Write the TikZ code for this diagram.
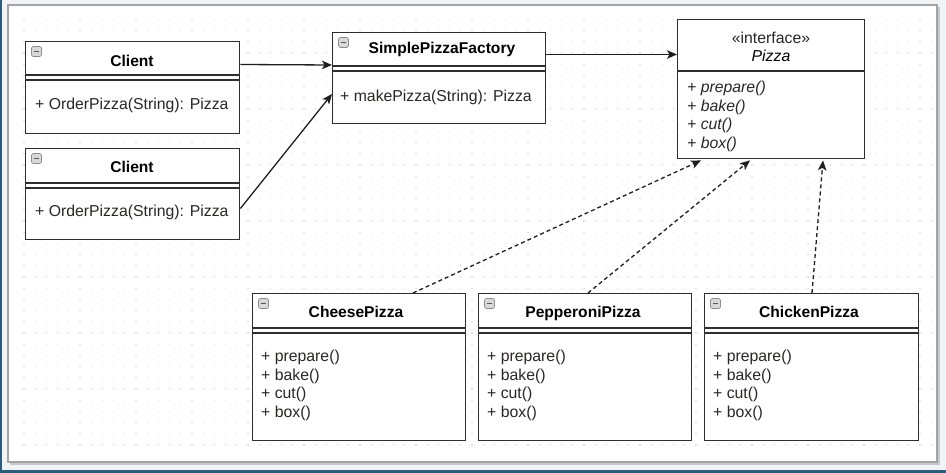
\documentclass[tikz,border=0pt]{standalone}
\usepackage{fontspec}
\setmainfont{Liberation Sans}
\usetikzlibrary{arrows.meta,calc}
\definecolor{outerbg}{HTML}{F1F4F7}
\definecolor{outerblue}{HTML}{2B5C7A}
\definecolor{pageedge}{HTML}{A3A3A3}
\definecolor{pageshadow}{HTML}{C8C8C8}
\definecolor{dotc}{HTML}{E0E0E0}
\definecolor{boxc}{HTML}{2E2E2E}
\definecolor{linec}{HTML}{1E1E1E}
\definecolor{txtc}{HTML}{2A2626}
\definecolor{iconfill}{HTML}{D8D8D8}
\definecolor{iconedge}{HTML}{8C8C8C}
\tikzset{
  classbox/.style={draw=boxc, fill=white, line width=1.4pt, inner sep=0pt, anchor=north west},
  rule/.style={draw=boxc, line width=1.4pt},
  iconbox/.style={draw=iconedge, fill=iconfill, rounded corners=1.5pt, line width=0.6pt,
    minimum width=10pt, minimum height=10pt, inner sep=0pt},
  icondash/.style={draw=black!65, line width=1.3pt},
  titletext/.style={font=\bfseries\fontsize{15.6}{18}\selectfont, text=black, inner sep=0pt, anchor=base},
  opstext/.style={font=\fontsize{15.8}{18.8}\selectfont, text=txtc, inner sep=0pt, anchor=base west},
  itops/.style={font=\itshape\fontsize{15.8}{18.8}\selectfont, text=txtc, inner sep=0pt, anchor=base west},
  assoc/.style={draw=linec, line width=1.3pt, -{Stealth[length=10pt,width=8.5pt,inset=2.5pt]}},
  realize/.style={draw=linec, line width=1.3pt, dash pattern=on 4pt off 3pt,
    -{Stealth[length=10pt,width=8.5pt,inset=2.5pt]}},
}
\newcommand\classframe[6]{%
  \node[classbox, minimum width=#4pt, minimum height=#5pt] (#1) at (#2,#3) {};
  \draw[rule] ($(#1.north west)+(0,#6)$) -- ($(#1.north east)+(0,#6)$);
  \draw[rule] ($(#1.north west)+(0,#6+5)$) -- ($(#1.north east)+(0,#6+5)$);
  \node[iconbox] (#1i) at ($(#1.north west)+(11.5,10.5)$) {};
  \draw[icondash] ($(#1i.west)+(2.5,0)$) -- ($(#1i.east)+(-2.5,0)$);
}
\begin{document}
\begin{tikzpicture}[x=1pt,y=-1pt]
\useasboundingbox (0,0) rectangle (946,473);
% outer surroundings
\fill[outerbg] (0,0) rectangle (946,473);
\fill[outerblue] (0,0) rectangle (2,473);
\fill[outerblue] (0,469.5) rectangle (946,473);
% page with shadow
\fill[pageshadow] (10,7) rectangle (939.5,464.5);
\fill[white, draw=pageedge, line width=1.2pt] (8,5) rectangle (937,462);
% dot grid
\foreach \i in {0,...,81} {
  \foreach \j in {0,...,38} {
    \fill[dotc] (24+\i*11.2-0.55, 19.4+\j*11.2-0.55) rectangle ++(1.1,1.1);
  }
}
% Client 1
\classframe{cA}{25}{41}{214}{92}{34}
\node[titletext] (cAt) at (132,66.4) {Client};
\node[opstext] (cAm) at (35,109.8) {+ OrderPizza(String): Pizza};
% Client 2
\classframe{cB}{25}{148}{214}{91}{35}
\node[titletext] (cBt) at (132,172.8) {Client};
\node[opstext] (cBm) at (35,216.4) {+ OrderPizza(String): Pizza};
% SimplePizzaFactory
\classframe{spf}{332}{32}{213}{91}{34}
\node[titletext] (spft) at (442,53.4) {SimplePizzaFactory};
\node[opstext] (spfm) at (340,101.4) {+ makePizza(String): Pizza};
% Pizza interface
\node[classbox, minimum width=187pt, minimum height=139pt] (pz) at (677,19) {};
\draw[rule] ($(pz.north west)+(0,52)$) -- ($(pz.north east)+(0,52)$);
\node[font=\fontsize{15.8}{18.8}\selectfont, text=txtc, inner sep=0pt, anchor=base] (pzs) at (771,43.2) {«interface»};
\node[font=\itshape\fontsize{15.8}{18.8}\selectfont, text=black, inner sep=0pt, anchor=base] (pzn) at (771,61.6) {Pizza};
\node[itops] (pz1) at (687,92.6) {+ prepare()};
\node[itops] (pz2) at (687,111.3) {+ bake()};
\node[itops] (pz3) at (687,130.0) {+ cut()};
\node[itops] (pz4) at (687,148.6) {+ box()};
% CheesePizza
\classframe{ch}{252}{293}{213}{147}{35}
\node[titletext] (cht) at (356,317.6) {CheesePizza};
\node[opstext] (ch1) at (261,361.6) {+ prepare()};
\node[opstext] (ch2) at (261,380.3) {+ bake()};
\node[opstext] (ch3) at (261,399.0) {+ cut()};
\node[opstext] (ch4) at (261,417.7) {+ box()};
% PepperoniPizza
\classframe{pp}{478}{293}{213}{147}{35}
\node[titletext] (ppt) at (583,317.6) {PepperoniPizza};
\node[opstext] (pp1) at (487,361.6) {+ prepare()};
\node[opstext] (pp2) at (487,380.3) {+ bake()};
\node[opstext] (pp3) at (487,399.0) {+ cut()};
\node[opstext] (pp4) at (487,417.7) {+ box()};
% ChickenPizza
\classframe{ck}{704}{293}{214}{147}{35}
\node[titletext] (ckt) at (809,317.6) {ChickenPizza};
\node[opstext] (ck1) at (713,361.6) {+ prepare()};
\node[opstext] (ck2) at (713,380.3) {+ bake()};
\node[opstext] (ck3) at (713,399.0) {+ cut()};
\node[opstext] (ck4) at (713,417.7) {+ box()};
% associations
\draw[assoc] ($(cA.north east)+(0,23.5)$) -- ($(spf.north west)+(0,33)$);
\draw[assoc] ($(cB.north east)+(0,60.5)$) -- ($(spf.north west)+(0,62)$);
\draw[assoc] ($(spf.north east)+(0,22.5)$) -- ($(pz.north west)+(0,35.5)$);
% realizations
\draw[realize] ($(ch.north west)+(161,0)$) -- ($(pz.south west)+(24,1)$);
\draw[realize] ($(pp.north west)+(110,0)$) -- ($(pz.south west)+(73,1)$);
\draw[realize] ($(ck.north west)+(108,0)$) -- ($(pz.south west)+(146,1)$);
\end{tikzpicture}
\end{document}
